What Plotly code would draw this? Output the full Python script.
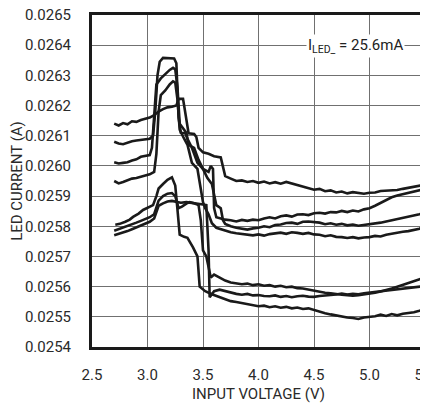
import plotly.graph_objects as go

# ---- tick labels ----
x_ticks = [2.5, 3.0, 3.5, 4.0, 4.5, 5.0, 5.5]
y_ticks = [0.0254, 0.0255, 0.0256, 0.0257, 0.0258, 0.0259, 0.0260,
           0.0261, 0.0262, 0.0263, 0.0264, 0.0265]

# ---- common voltage grid for the settled (right-hand) part of every sweep ----
v_tail = [3.75, 3.80, 3.85, 3.90, 3.95, 4.00, 4.05, 4.10, 4.15, 4.20, 4.25, 4.30,
          4.35, 4.40, 4.45, 4.50, 4.55, 4.60, 4.65, 4.70, 4.75, 4.80, 4.85, 4.90,
          4.95, 5.00, 5.05, 5.10, 5.15, 5.20, 5.25, 5.30, 5.35, 5.40, 5.45, 5.50]

# ---- curve 1 (gentle hump, highest settled level) ----
v1_head = [2.70, 2.74, 2.78, 2.82, 2.86, 2.90, 2.94, 2.98, 3.02, 3.06, 3.10, 3.14,
           3.18, 3.22, 3.26, 3.28, 3.32, 3.33, 3.35, 3.37, 3.42, 3.44, 3.46, 3.50,
           3.55, 3.60, 3.66, 3.68, 3.70]
i1_head = [0.026140, 0.026134, 0.026142, 0.026138, 0.026148, 0.026146, 0.026152,
           0.026156, 0.026160, 0.026168, 0.026180, 0.026188, 0.026194, 0.026196,
           0.026200, 0.026222, 0.026222, 0.026200, 0.026150, 0.026108, 0.026106,
           0.026096, 0.026060, 0.026045, 0.026040, 0.026032, 0.026028, 0.026000,
           0.025966]
i1_tail = [0.025958, 0.025950, 0.025952, 0.025947, 0.025950, 0.025944, 0.025948,
           0.025942, 0.025946, 0.025941, 0.025947, 0.025942, 0.025936, 0.025932,
           0.025928, 0.025921, 0.025924, 0.025916, 0.025919, 0.025912, 0.025915,
           0.025909, 0.025913, 0.025910, 0.025908, 0.025911, 0.025912, 0.025917,
           0.025918, 0.025921, 0.025920, 0.025924, 0.025927, 0.025930, 0.025935,
           0.025938]

# ---- curve 2 (tallest peak) ----
v2_head = [2.70, 2.74, 2.78, 2.82, 2.86, 2.90, 2.94, 2.98, 3.02, 3.05, 3.07, 3.09,
           3.11, 3.14, 3.20, 3.24, 3.26, 3.27, 3.28, 3.30, 3.34, 3.36, 3.40, 3.45,
           3.50, 3.55, 3.57, 3.59, 3.60, 3.62, 3.66, 3.70]
i2_head = [0.026080, 0.026074, 0.026072, 0.026078, 0.026082, 0.026084, 0.026086,
           0.026088, 0.026090, 0.026100, 0.026180, 0.026300, 0.026345, 0.026358,
           0.026358, 0.026356, 0.026340, 0.026250, 0.026160, 0.026110, 0.026108,
           0.026090, 0.026060, 0.026010, 0.025990, 0.025980, 0.026000, 0.025990,
           0.025860, 0.025830, 0.025826, 0.025822]
i2_tail = [0.025820, 0.025816, 0.025821, 0.025818, 0.025822, 0.025820, 0.025826,
           0.025830, 0.025826, 0.025833, 0.025836, 0.025832, 0.025839, 0.025840,
           0.025837, 0.025843, 0.025845, 0.025842, 0.025847, 0.025846, 0.025851,
           0.025847, 0.025852, 0.025849, 0.025856, 0.025860, 0.025868, 0.025878,
           0.025888, 0.025896, 0.025902, 0.025906, 0.025910, 0.025914, 0.025920,
           0.025924]

# ---- curve 3 ----
v3_head = [2.70, 2.74, 2.78, 2.82, 2.86, 2.90, 2.94, 2.98, 3.02, 3.04, 3.06, 3.08,
           3.12, 3.16, 3.20, 3.23, 3.25, 3.27, 3.29, 3.31, 3.35, 3.37, 3.42, 3.46,
           3.50, 3.54, 3.58, 3.60, 3.62, 3.66, 3.68, 3.70]
i3_head = [0.026012, 0.026008, 0.026010, 0.026012, 0.026018, 0.026022, 0.026030,
           0.026032, 0.026036, 0.026060, 0.026180, 0.026270, 0.026290, 0.026305,
           0.026318, 0.026325, 0.026320, 0.026260, 0.026140, 0.026130, 0.026110,
           0.026070, 0.026060, 0.026020, 0.025990, 0.025960, 0.025940, 0.025900,
           0.025870, 0.025860, 0.025820, 0.025808]
i3_tail = [0.025800, 0.025795, 0.025792, 0.025789, 0.025793, 0.025795, 0.025800,
           0.025797, 0.025804, 0.025806, 0.025811, 0.025812, 0.025808, 0.025815,
           0.025816, 0.025814, 0.025812, 0.025807, 0.025810, 0.025805, 0.025808,
           0.025803, 0.025806, 0.025802, 0.025804, 0.025806, 0.025810, 0.025812,
           0.025816, 0.025820, 0.025822, 0.025826, 0.025830, 0.025834, 0.025840,
           0.025845]

# ---- curve 4 ----
v4_head = [2.70, 2.74, 2.78, 2.82, 2.86, 2.90, 2.94, 2.98, 3.02, 3.06, 3.08, 3.10,
           3.12, 3.16, 3.20, 3.23, 3.25, 3.27, 3.29, 3.33, 3.36, 3.40, 3.45, 3.50,
           3.52, 3.55, 3.58, 3.62, 3.66, 3.70]
i4_head = [0.025950, 0.025942, 0.025947, 0.025952, 0.025958, 0.025960, 0.025964,
           0.025968, 0.025972, 0.025980, 0.026040, 0.026180, 0.026235, 0.026250,
           0.026270, 0.026280, 0.026276, 0.026220, 0.026120, 0.026090, 0.026070,
           0.026010, 0.025990, 0.025880, 0.025860, 0.025840, 0.025810, 0.025795,
           0.025790, 0.025785]
i4_tail = [0.025780, 0.025777, 0.025775, 0.025771, 0.025770, 0.025773, 0.025769,
           0.025774, 0.025776, 0.025779, 0.025775, 0.025780, 0.025778, 0.025775,
           0.025778, 0.025773, 0.025772, 0.025767, 0.025770, 0.025765, 0.025764,
           0.025761, 0.025764, 0.025760, 0.025763, 0.025764, 0.025768, 0.025766,
           0.025772, 0.025776, 0.025778, 0.025782, 0.025784, 0.025788, 0.025792,
           0.025800]

# ---- curve 5 (lower group, lowest settled level) ----
v5_head = [2.71, 2.75, 2.80, 2.84, 2.87, 2.92, 2.96, 3.00, 3.05, 3.08, 3.10, 3.14,
           3.18, 3.22, 3.25, 3.27, 3.29, 3.33, 3.36, 3.41, 3.45, 3.47, 3.52, 3.58,
           3.65, 3.72]
i5_head = [0.025805, 0.025808, 0.025815, 0.025822, 0.025831, 0.025842, 0.025854,
           0.025862, 0.025870, 0.025900, 0.025925, 0.025940, 0.025954, 0.025962,
           0.025935, 0.025855, 0.025772, 0.025765, 0.025762, 0.025730, 0.025700,
           0.025600, 0.025585, 0.025575, 0.025565, 0.025555]
i5_tail = [0.025552, 0.025549, 0.025545, 0.025541, 0.025538, 0.025535, 0.025537,
           0.025532, 0.025535, 0.025530, 0.025533, 0.025528, 0.025531, 0.025526,
           0.025528, 0.025522, 0.025518, 0.025512, 0.025508, 0.025504, 0.025500,
           0.025498, 0.025496, 0.025493, 0.025498, 0.025500, 0.025502, 0.025507,
           0.025503, 0.025509, 0.025505, 0.025510, 0.025512, 0.025515, 0.025520,
           0.025526]

# ---- curve 6 ----
v6_head = [2.70, 2.74, 2.78, 2.82, 2.86, 2.90, 2.94, 2.98, 3.02, 3.06, 3.08, 3.10,
           3.14, 3.18, 3.22, 3.25, 3.28, 3.31, 3.35, 3.38, 3.42, 3.46, 3.48, 3.50,
           3.53, 3.55, 3.57, 3.60, 3.65, 3.70]
i6_head = [0.025785, 0.025790, 0.025796, 0.025800, 0.025806, 0.025812, 0.025818,
           0.025824, 0.025830, 0.025840, 0.025860, 0.025885, 0.025900, 0.025908,
           0.025910, 0.025900, 0.025860, 0.025865, 0.025875, 0.025880, 0.025876,
           0.025870, 0.025820, 0.025720, 0.025700, 0.025670, 0.025630, 0.025640,
           0.025630, 0.025620]
i6_tail = [0.025614, 0.025611, 0.025608, 0.025610, 0.025605, 0.025608, 0.025603,
           0.025605, 0.025600, 0.025603, 0.025598, 0.025600, 0.025595, 0.025594,
           0.025590, 0.025586, 0.025582, 0.025580, 0.025578, 0.025575, 0.025573,
           0.025572, 0.025570, 0.025572, 0.025574, 0.025576, 0.025580, 0.025584,
           0.025588, 0.025594, 0.025600, 0.025606, 0.025612, 0.025618, 0.025624,
           0.025630]

# ---- curve 7 ----
v7_head = [2.70, 2.74, 2.78, 2.82, 2.86, 2.90, 2.94, 2.98, 3.02, 3.06, 3.08, 3.10,
           3.14, 3.18, 3.22, 3.26, 3.30, 3.35, 3.40, 3.45, 3.50, 3.53, 3.55, 3.56,
           3.60, 3.65, 3.70]
i7_head = [0.025770, 0.025774, 0.025778, 0.025784, 0.025790, 0.025796, 0.025802,
           0.025808, 0.025815, 0.025826, 0.025850, 0.025868, 0.025876, 0.025882,
           0.025884, 0.025880, 0.025878, 0.025880, 0.025878, 0.025875, 0.025872,
           0.025870, 0.025720, 0.025565, 0.025585, 0.025590, 0.025585]
i7_tail = [0.025580, 0.025576, 0.025573, 0.025576, 0.025571, 0.025572, 0.025569,
           0.025568, 0.025571, 0.025566, 0.025569, 0.025565, 0.025568, 0.025570,
           0.025567, 0.025566, 0.025569, 0.025570, 0.025573, 0.025574, 0.025577,
           0.025574, 0.025576, 0.025575, 0.025578, 0.025580, 0.025582, 0.025584,
           0.025586, 0.025588, 0.025590, 0.025592, 0.025594, 0.025596, 0.025598,
           0.025602]

curves = [
    (v1_head, i1_head, i1_tail),
    (v2_head, i2_head, i2_tail),
    (v3_head, i3_head, i3_tail),
    (v4_head, i4_head, i4_tail),
    (v5_head, i5_head, i5_tail),
    (v6_head, i6_head, i6_tail),
    (v7_head, i7_head, i7_tail),
]

FONT = "Roboto, Liberation Sans, sans-serif"

fig = go.Figure()
for vh, ih, it in curves:
    fig.add_trace(go.Scatter(
        x=vh + v_tail, y=ih + it, mode="lines",
        line=dict(color="#1a1a1a", width=2.6),
        showlegend=False, hoverinfo="skip"))

fig.add_annotation(
    x=4.87, y=0.0264, xref="x", yref="y",
    text="I<sub>LED_</sub> = 25.6mA", showarrow=False,
    font=dict(family=FONT, size=15, color="#222"),
    bgcolor="white", borderpad=1, xanchor="center", yanchor="middle", yshift=-1)

# the page body adds an 8 px offset, so the figure is sized/offset to compensate
fig.update_layout(
    width=420, height=397,
    margin=dict(l=84, r=3, t=7, b=58),
    paper_bgcolor="white", plot_bgcolor="white",
    font=dict(family=FONT, size=15, color="#2a2a2a"),
    xaxis=dict(
        range=[2.5, 5.5], tickvals=x_ticks, tickformat=".1f",
        showgrid=True, gridcolor="#707070", gridwidth=1.3,
        showline=True, linecolor="#1a1a1a", linewidth=3, mirror=True,
        ticks="", ticklabelstandoff=12, zeroline=False,
        ticklabeloverflow="allow", automargin=False,
        title=dict(text="INPUT VOLTAGE (V)", standoff=6,
                   font=dict(family=FONT, size=15))),
    yaxis=dict(
        range=[0.0254, 0.0265], tickvals=y_ticks, tickformat=".4f",
        showgrid=True, gridcolor="#707070", gridwidth=1.3,
        showline=True, linecolor="#1a1a1a", linewidth=3, mirror=True,
        ticks="", ticklabelstandoff=15, zeroline=False,
        ticklabeloverflow="allow", automargin=False,
        title=dict(text="LED CURRENT (A)", standoff=4,
                   font=dict(family=FONT, size=15))),
)

fig.write_html("out.html")
